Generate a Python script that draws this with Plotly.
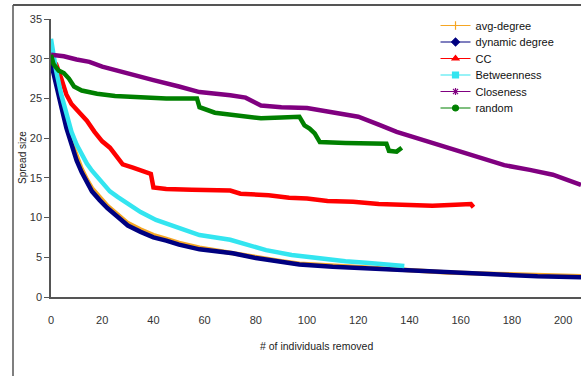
import plotly.graph_objects as go

# ---- data ----
dyn_x = [0, 1, 2, 4, 6, 8, 10, 12, 14, 16, 19, 22, 26, 30, 35, 40, 45, 50, 58, 65, 71, 80, 90, 97, 110, 123, 139, 155, 174, 190, 207]
dyn_y = [29.5, 28.0, 26.8, 24.0, 21.3, 19.0, 17.2, 15.7, 14.4, 13.3, 12.2, 11.2, 10.1, 9.0, 8.2, 7.5, 7.1, 6.6, 6.0, 5.7, 5.5, 4.9, 4.4, 4.1, 3.8, 3.6, 3.3, 3.0, 2.8, 2.6, 2.5]

avg_x = [0, 1, 2, 4, 6, 8, 10, 12, 14, 16, 19, 22, 26, 30, 35, 40, 45, 50, 58, 65, 71, 80, 90, 97, 110, 123, 139, 155, 174, 190, 207]
avg_y = [29.8, 28.4, 27.2, 24.5, 21.8, 19.5, 17.6, 16.1, 14.8, 13.7, 12.6, 11.5, 10.4, 9.3, 8.5, 7.8, 7.3, 6.8, 6.2, 5.8, 5.6, 5.0, 4.5, 4.2, 3.9, 3.7, 3.4, 3.1, 2.9, 2.7, 2.6]

cc_x = [0, 2, 4, 6, 8, 11, 14, 17, 20, 23, 26, 28, 32, 36, 39, 40, 45, 55, 65, 70, 74, 85, 93, 100, 108, 118, 128, 140, 149, 158, 164, 165]
cc_y = [30.0, 29.3, 27.5, 25.5, 24.3, 23.3, 22.2, 20.8, 19.6, 18.8, 17.5, 16.7, 16.3, 15.9, 15.5, 13.8, 13.6, 13.5, 13.5, 13.4, 13.0, 12.8, 12.5, 12.4, 12.1, 12.0, 11.7, 11.6, 11.5, 11.6, 11.7, 11.3]

btw_x = [0, 1, 2, 4, 6, 8, 10, 12, 14, 16, 18, 20, 23, 26, 30, 35, 41, 47, 53, 58, 70, 77, 84, 94, 104, 115, 123, 138]
btw_y = [32.5, 30.0, 28.5, 25.5, 23.0, 20.8, 19.2, 17.9, 16.8, 15.9, 15.1, 14.3, 13.3, 12.6, 11.7, 10.7, 9.7, 9.0, 8.4, 7.8, 7.2, 6.5, 5.9, 5.3, 4.9, 4.5, 4.3, 3.9]

clo_x = [0, 5, 10, 15, 20, 28, 35, 40, 50, 58, 70, 76, 82, 90, 100, 110, 120, 128, 135, 141, 155, 168, 177, 187, 196, 207]
clo_y = [30.5, 30.3, 29.9, 29.6, 29.0, 28.3, 27.6, 27.3, 26.5, 25.8, 25.4, 25.1, 24.1, 23.9, 23.8, 23.3, 22.7, 21.7, 20.8, 20.2, 18.8, 17.6, 16.6, 16.0, 15.4, 14.1]

rnd_x = [0, 1, 3, 5, 7, 9, 12, 18, 25, 35, 45, 57, 58, 64, 70, 82, 90, 97, 99, 101, 103, 105, 115, 125, 131, 132, 135, 137]
rnd_y = [30.5, 29.3, 28.5, 28.2, 27.5, 26.5, 26.0, 25.6, 25.3, 25.1, 25.0, 25.0, 23.9, 23.2, 23.0, 22.5, 22.6, 22.7, 21.6, 21.2, 20.6, 19.5, 19.4, 19.3, 19.3, 18.4, 18.3, 18.8]

x_ticks = [0, 20, 40, 60, 80, 100, 120, 140, 160, 180, 200]
y_ticks = [0, 5, 10, 15, 20, 25, 30, 35]

series_names = ["avg-degree", "dynamic degree", "CC", "Betweenness", "Closeness", "random"]
series_x = [avg_x, dyn_x, cc_x, btw_x, clo_x, rnd_x]
series_y = [avg_y, dyn_y, cc_y, btw_y, clo_y, rnd_y]
colors = ["#F5A623", "#000080", "#FF0000", "#33E5F0", "#800080", "#008000"]
symbols = ["line-ns-open", "diamond", "triangle-up", "square", "asterisk-open", "circle"]

fig = go.Figure()
# data bands
for name, xs, ys, col in zip(series_names, series_x, series_y, colors):
    fig.add_trace(go.Scatter(x=xs, y=ys, mode="lines", name=name, showlegend=False,
                             line=dict(color=col, width=4.5), hoverinfo="skip"))

# legend entries: one single-item legend per series for tight row spacing
PLOT_H = 278
legend_layouts = {}
for i, (name, col, sym) in enumerate(zip(series_names, colors, symbols)):
    key = "legend" if i == 0 else f"legend{i + 1}"
    fig.add_trace(go.Scatter(x=[None], y=[None], mode="lines+markers", name=name,
                             legend=key, showlegend=True,
                             line=dict(color=col, width=1.2),
                             marker=dict(color=col, symbol=sym, size=6,
                                         line=dict(color=col, width=1.2))))
    row_center = 25 + 16.5 * i
    legend_layouts[key] = dict(
        x=0.7255, y=(297 - (row_center - 14)) / PLOT_H, xanchor="left", yanchor="top",
        bgcolor="rgba(0,0,0,0)", font=dict(size=11, color="#111"),
        itemwidth=30)

fx0 = (13 - 51) / 530      # outer frame left edge (paper units)
fx1 = (581 - 51) / 530     # outer frame right end
fy1 = (297 - 5) / 278      # outer frame top edge (paper units)
fy0 = (297 - 376) / 278    # outer frame bottom end
fig.update_layout(
    width=581, height=376,
    margin=dict(l=51, r=0, t=19, b=79),
    paper_bgcolor="white", plot_bgcolor="white",
    font=dict(family="Liberation Sans, Arial, sans-serif", size=11, color="#222"),
    showlegend=True,
    xaxis=dict(range=[0, 207], tickvals=x_ticks, ticks="", showline=True,
               linecolor="#555", linewidth=1.5, showgrid=False, zeroline=False,
               ticklabelstandoff=12, tickfont=dict(size=11, color="#333")),
    yaxis=dict(range=[0, 35], tickvals=y_ticks, ticks="outside", ticklen=5,
               tickcolor="#555", showline=True, linecolor="#555", linewidth=1.5,
               showgrid=False, zeroline=False, tickfont=dict(size=11, color="#333")),
    shapes=[
        dict(type="line", xref="paper", yref="paper", x0=fx0, x1=fx1, y0=fy1, y1=fy1,
             line=dict(color="#555", width=2), layer="above"),
        dict(type="line", xref="paper", yref="paper", x0=fx0, x1=fx0, y0=fy0, y1=fy1,
             line=dict(color="#555", width=1.5), layer="above"),
    ],
    annotations=[
        dict(text="Spread size", xref="paper", yref="paper", x=(22 - 51) / 530, y=0.5,
             textangle=-90, showarrow=False, font=dict(size=10, color="#222"),
             xanchor="center", yanchor="middle"),
        dict(text="# of individuals removed", xref="paper", yref="paper", x=0.5,
             y=(297 - 346) / 278, showarrow=False, font=dict(size=10.5, color="#222"),
             xanchor="center", yanchor="middle"),
    ],
    **legend_layouts,
)

fig.write_html("out.html", config={"displayModeBar": False},
               post_script="document.body.style.margin='0';document.body.style.overflow='hidden';")
